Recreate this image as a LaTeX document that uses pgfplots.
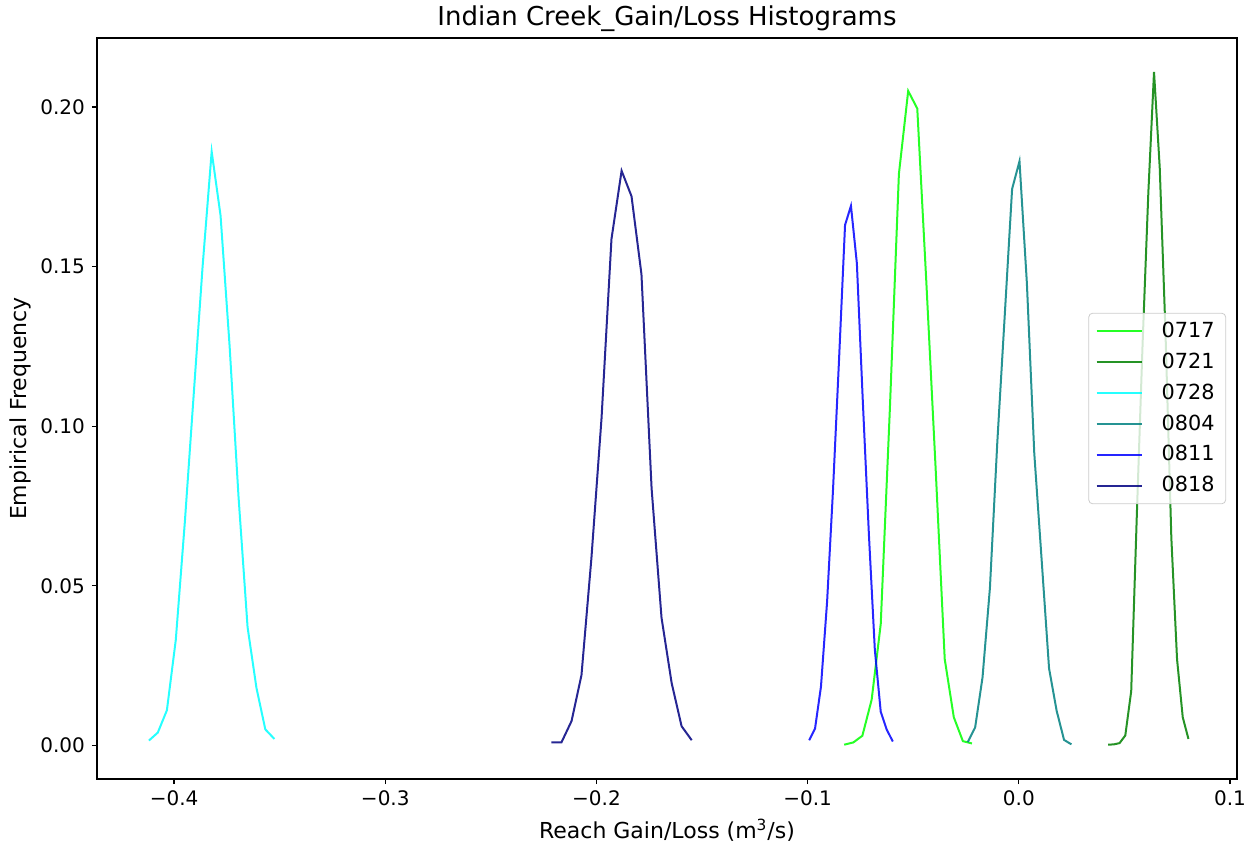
\documentclass[border=0pt]{standalone}
\usepackage{fontspec}
\setmainfont{DejaVu Sans}
\usepackage{pgfplots}
\pgfplotsset{compat=1.18}
\definecolor{clime}{HTML}{00FF00}
\definecolor{cgreen}{HTML}{008000}
\definecolor{ccyan}{HTML}{00FFFF}
\definecolor{cteal}{HTML}{008080}
\definecolor{cblue}{HTML}{0000FF}
\definecolor{cnavy}{HTML}{000080}
\definecolor{legframe}{HTML}{CCCCCC}
\begin{document}
\fontsize{10}{12}\selectfont
\begin{tikzpicture}
\begin{axis}[
  at={(0,0)}, anchor=south west,
  scale only axis, width=570pt, height=370.5pt,
  xmin=-0.4365, xmax=0.1033, ymin=-0.01055, ymax=0.2216,
  axis line style={line width=0.6pt, black},
  tick align=outside, tick pos=left,
  major tick length=2.5pt,
  tick style={black, line width=0.6pt},
  xtick={-0.4,-0.3,-0.2,-0.1,0,0.1},
  xticklabels={−0.4,−0.3,−0.2,−0.1,0.0,0.1},
  ytick={0,0.05,0.1,0.15,0.2},
  yticklabels={0.00,0.05,0.10,0.15,0.20},
  xticklabel style={font=\fontsize{10}{12}\selectfont},
  yticklabel style={font=\fontsize{10}{12}\selectfont},
  title={Indian Creek\_Gain/Loss Histograms},
  title style={at={(axis description cs:0.5,1)}, anchor=center, yshift=3.5pt, font=\fontsize{13}{15.6}\selectfont},
  xlabel={Reach Gain/Loss (m\textsuperscript{3}/s)},
  xlabel style={at={(axis description cs:0.5,-0.0688)}, anchor=center, font=\fontsize{11}{13.2}\selectfont},
  ylabel={Empirical Frequency},
  ylabel style={at={(axis description cs:-0.0675,0.5)}, anchor=center, font=\fontsize{11}{13.2}\selectfont},
  legend style={at={(0.9904,0.5)}, anchor=east, draw=legframe, rounded corners=2pt,
    fill=white, fill opacity=0.8, text opacity=1, font=\fontsize{10.4}{12.5}\selectfont,
    inner xsep=3.5pt, inner ysep=2.5pt, row sep=2.2pt,
    /tikz/every odd column/.append style={column sep=7.5pt}},
  legend cell align=left,
  legend image code/.code={\draw[#1] (0pt,0pt) -- (22.5pt,0pt);},
  every axis plot/.append style={line width=1pt, draw opacity=0.85},
]
\addplot[clime] coordinates {
(-0.0827,0.0002) (-0.0784,0.0009) (-0.0741,0.0030) (-0.0697,0.0143) (-0.0654,0.038)
(-0.0611,0.105) (-0.0568,0.179) (-0.0524,0.205) (-0.0481,0.1995) (-0.0438,0.145)
(-0.0395,0.088) (-0.0351,0.027) (-0.0308,0.0088) (-0.0265,0.0013) (-0.0222,0.0006)};
\addlegendentry{0717}
\addplot[cgreen] coordinates {
(0.0423,0.0002) (0.0450,0.0003) (0.0477,0.0007) (0.0504,0.0031) (0.0532,0.017)
(0.0559,0.073) (0.0586,0.126) (0.0613,0.173) (0.0640,0.211) (0.0667,0.181)
(0.0694,0.130) (0.0722,0.065) (0.0749,0.027) (0.0776,0.0088) (0.0803,0.002)};
\addlegendentry{0721}
\addplot[ccyan] coordinates {
(-0.4119,0.0015) (-0.4077,0.004) (-0.4034,0.011) (-0.3992,0.033) (-0.3949,0.070)
(-0.3907,0.110) (-0.3865,0.150) (-0.3822,0.186) (-0.3780,0.166) (-0.3737,0.125)
(-0.3695,0.078) (-0.3652,0.037) (-0.3610,0.018) (-0.3568,0.005) (-0.3525,0.002)};
\addlegendentry{0728}
\addplot[cteal] coordinates {
(-0.0242,0.001) (-0.0207,0.0056) (-0.0172,0.0213) (-0.0137,0.0493) (-0.0102,0.095)
(-0.0067,0.1345) (-0.0032,0.1743) (0.0003,0.183) (0.0038,0.1448) (0.0073,0.0915)
(0.0108,0.058) (0.0143,0.0241) (0.0179,0.0108) (0.0214,0.0017) (0.0249,0.0003)};
\addlegendentry{0804}
\addplot[cblue] coordinates {
(-0.0993,0.0016) (-0.0965,0.0053) (-0.0937,0.0184) (-0.0908,0.045) (-0.0880,0.080)
(-0.0852,0.120) (-0.0823,0.163) (-0.0795,0.169) (-0.0767,0.151) (-0.0739,0.108)
(-0.0710,0.066) (-0.0682,0.030) (-0.0654,0.0105) (-0.0626,0.005) (-0.0597,0.0012)};
\addlegendentry{0811}
\addplot[cnavy] coordinates {
(-0.2213,0.0009) (-0.2166,0.0009) (-0.2118,0.0076) (-0.2071,0.022) (-0.2024,0.0586)
(-0.1976,0.1025) (-0.1929,0.1586) (-0.1881,0.180) (-0.1834,0.172) (-0.1787,0.1476)
(-0.1739,0.0805) (-0.1692,0.040) (-0.1644,0.0195) (-0.1597,0.006) (-0.1549,0.0016)};
\addlegendentry{0818}
\end{axis}
\pgfresetboundingbox
\path[use as bounding box] (-48.5pt,-31.5pt) rectangle (574.5pt,389.5pt);
\end{tikzpicture}
\end{document}
